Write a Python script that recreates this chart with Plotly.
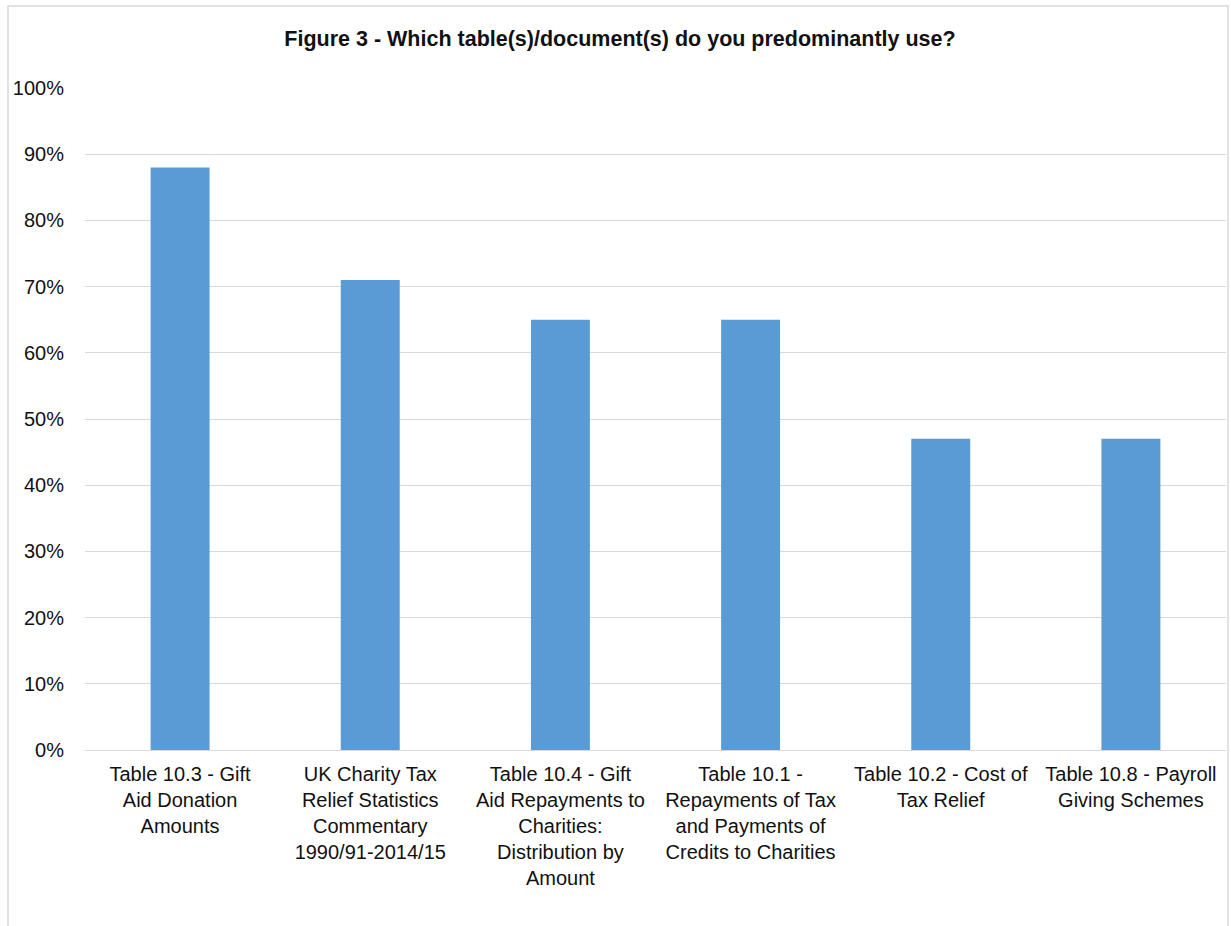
import plotly.graph_objects as go

categories = [
    "Table 10.3 - Gift<br>Aid Donation<br>Amounts",
    "UK Charity Tax<br>Relief Statistics<br>Commentary<br>1990/91-2014/15",
    "Table 10.4 - Gift<br>Aid Repayments to<br>Charities:<br>Distribution by<br>Amount",
    "Table 10.1 -<br>Repayments of Tax<br>and Payments of<br>Credits to Charities",
    "Table 10.2 - Cost of<br>Tax Relief",
    "Table 10.8 - Payroll<br>Giving Schemes",
]
values = [0.88, 0.71, 0.65, 0.65, 0.47, 0.47]
tick_vals = [0, 0.1, 0.2, 0.3, 0.4, 0.5, 0.6, 0.7, 0.8, 0.9, 1.0]
tick_text = ["0%", "10%", "20%", "30%", "40%", "50%", "60%", "70%", "80%", "90%", "100%"]

W, H = 1231, 926
L, R, T, B = 85, 5, 88, 176
pw = W - L - R
ph = H - T - B

fig = go.Figure(go.Bar(x=categories, y=values, marker=dict(color="#5B9BD5", line=dict(width=0)),
                       hoverinfo="skip"))

fig.update_layout(
    width=W, height=H,
    margin=dict(l=L, r=R, t=T, b=B),
    paper_bgcolor="white", plot_bgcolor="white",
    bargap=0.69,
    showlegend=False,
    font=dict(family="Liberation Sans, Arial", size=20, color="#111111"),
    title=dict(text="<b>Figure 3 - Which table(s)/document(s) do you predominantly use?</b>",
               x=620 / W, xref="container", xanchor="center",
               y=1 - 38 / H, yref="container", yanchor="middle",
               font=dict(size=21.5, color="#111111")),
    xaxis=dict(showgrid=False, showline=True, linecolor="#d9d9d9", linewidth=1,
               ticks="", tickfont=dict(size=20), ticklabelstandoff=6),
    yaxis=dict(range=[0, 1.0], tickvals=tick_vals, ticktext=tick_text,
               showgrid=True, gridcolor="#d9d9d9", gridwidth=1,
               zeroline=False, showline=False, ticks="",
               ticklabelstandoff=20, tickfont=dict(size=20)),
    shapes=[dict(type="rect", xref="paper", yref="paper",
                 x0=(8 - L) / pw, x1=(1228 - L) / pw,
                 y0=(H - B - 960) / ph, y1=(H - B - 6) / ph,
                 line=dict(color="#d9d9d9", width=1.5), fillcolor="rgba(0,0,0,0)", layer="below")],
)

fig.write_html("out.html")
